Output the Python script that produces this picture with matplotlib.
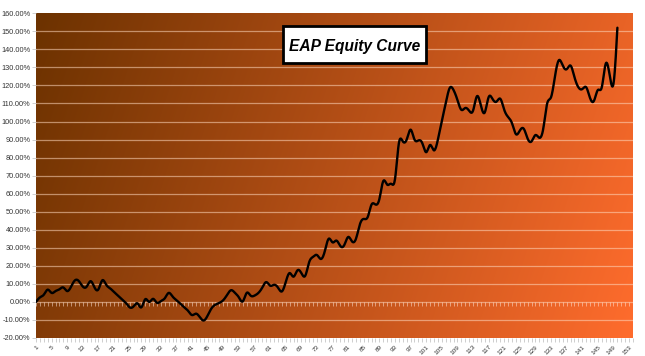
import numpy as np
import matplotlib
matplotlib.use("Agg")
import matplotlib.pyplot as plt
from matplotlib.patches import Rectangle

title = "EAP Equity Curve"
n_categories = 154
periods = list(range(1, 151))
equity_pct = [
    0, 2.5, 4, 6.8, 5, 6, 7, 8, 6, 8.5,
    12, 11.5, 8.5, 8.5, 11.5, 8, 7, 12, 9.5, 7.5,
    5.5, 3.5, 1.5, -0.5, -3, -2.5, -0.8, -3, 1.5, 0,
    1.7, -0.5, 0.5, 2, 5, 3, 1, -1, -3, -5,
    -7.3, -6.5, -8.5, -10.3, -7.5, -3.5, -1.5, -0.5, 1, 4,
    6.5, 5, 2.5, 0.3, 5, 3.5, 3.5, 5, 8, 11,
    9, 9.5, 8, 5.8, 11, 16, 14, 17.5, 16, 14.5,
    22, 25, 26, 23.8, 28, 35, 33, 34, 31, 31.5,
    36, 33.5, 35, 43, 46, 47, 54, 54, 57, 67,
    65, 65.5, 68, 88, 89, 90, 95.5, 90, 89.5, 88,
    83, 87, 84, 90, 100.5, 110, 118.5, 117.5, 112, 106.5,
    107.5, 106, 106, 114, 109, 105, 113.5, 112.5, 111, 112.6,
    106.5, 102.5, 99, 93, 95, 96, 90.5, 89, 92.5, 91,
    96, 110, 113.5, 125, 134, 131, 129, 131, 124.6, 119,
    118, 119, 113, 111.5, 117.5, 119, 132, 126, 121, 152,
]
y_ticks = list(range(-20, 161, 10))


def natural_spline(x, y, n_sub=12):
    x = np.asarray(x, float)
    y = np.asarray(y, float)
    n = len(x)
    h = np.diff(x)
    A = np.zeros((n, n))
    b = np.zeros(n)
    A[0, 0] = 1
    A[-1, -1] = 1
    for i in range(1, n - 1):
        A[i, i - 1] = h[i - 1]
        A[i, i] = 2 * (h[i - 1] + h[i])
        A[i, i + 1] = h[i]
        b[i] = 3 * ((y[i + 1] - y[i]) / h[i] - (y[i] - y[i - 1]) / h[i - 1])
    c = np.linalg.solve(A, b)
    xs, ys = [], []
    for i in range(n - 1):
        bb = (y[i + 1] - y[i]) / h[i] - h[i] * (2 * c[i] + c[i + 1]) / 3
        dd = (c[i + 1] - c[i]) / (3 * h[i])
        t = np.linspace(0, h[i], n_sub, endpoint=False)
        xs.append(x[i] + t)
        ys.append(y[i] + bb * t + c[i] * t ** 2 + dd * t ** 3)
    xs.append([x[-1]])
    ys.append([y[-1]])
    return np.concatenate(xs), np.concatenate(ys)


W, H = 645, 356
fig = plt.figure(figsize=(W / 100, H / 100), dpi=100)
fig.patch.set_facecolor("white")
ax = fig.add_axes([36 / W, 1 - 338 / H, (633 - 36) / W, (338 - 13.3) / H])

# gradient background
gx = np.linspace(0, 1, 300)[None, :]
gy = np.linspace(1, 0, 200)[:, None]
t = np.clip(0.85 * gx + 0.15 * (1 - gy), 0, 1)
c0 = np.array([108, 50, 0]) / 255
c1 = np.array([255, 108, 45]) / 255
img = c0[None, None, :] * (1 - t[..., None]) + c1[None, None, :] * t[..., None]
ax.imshow(img, extent=[1, n_categories, -20, 160], aspect="auto", zorder=0,
          interpolation="bilinear")

ax.set_xlim(1, n_categories)
ax.set_ylim(-20, 160)

for v in y_ticks:
    if v in (-20, 160):
        continue
    ax.axhline(v, color=(1, 0.85, 0.75), alpha=0.55, lw=0.9, zorder=1)

# ticks on the zero axis
cats = np.arange(1, n_categories + 1)
ax.vlines(cats, -2.0, 0, colors=(1, 0.9, 0.85), alpha=0.6, lw=0.6, zorder=1)

xs, ys = natural_spline(periods, equity_pct)
ax.plot(xs, ys, color="black", lw=1.7, zorder=3, solid_capstyle="round")

ax.set_yticks(y_ticks)
ax.set_yticklabels([f"{v:.2f}%" for v in y_ticks], fontsize=5.3,
                   family="Liberation Sans", color="#333333")
ax.set_xticks(cats)
ax.set_xticklabels([str(c) if (c - 1) % 4 == 0 else "" for c in cats],
                   rotation=45, ha="right", va="top", rotation_mode="anchor",
                   fontsize=4.6, family="Liberation Sans", color="#333333")
ax.tick_params(axis="x", length=3, width=0.5, color="#bbbbbb", pad=1.5)
ax.tick_params(axis="y", length=3, width=0.5, color="#bbbbbb", pad=1)
for s in ax.spines.values():
    s.set_visible(False)

# title box (figure pixel placement)
fig.add_artist(Rectangle((283 / W, 1 - 63 / H), (426 - 283) / W, (63 - 26) / H,
                         transform=fig.transFigure, fc="white", ec="black",
                         lw=2.0, zorder=5))
fig.text(354.5 / W, 1 - 50.5 / H, title, ha="center", va="baseline",
         fontsize=11.2, fontweight="bold", fontstyle="italic",
         family="Liberation Sans", color="black", zorder=6)

fig.savefig("out.png", dpi=100, facecolor="white")
